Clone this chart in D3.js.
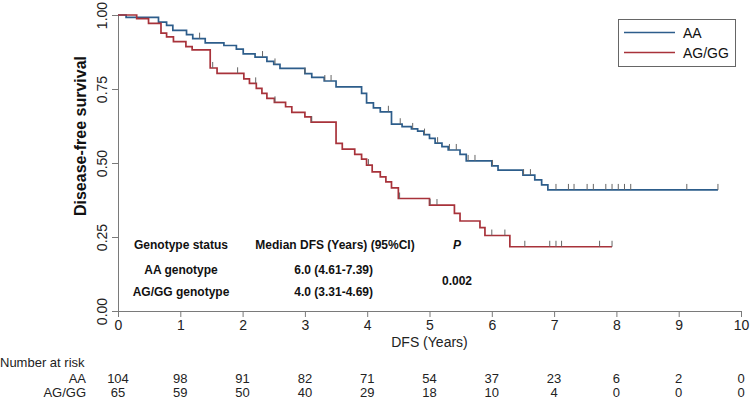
<!DOCTYPE html>
<html>
<head>
<meta charset="utf-8">
<script src="https://cdn.jsdelivr.net/npm/d3@7"></script>
<style>
  body { margin: 0; background: #fff; }
  svg { font-family: "Liberation Sans", Arial, sans-serif; }
</style>
</head>
<body>
<svg id="km" width="750" height="401"></svg>
<script>
// event times (years) and survival after each drop
var aaTimes = [0.13, 0.65, 0.78, 0.88, 1.10, 1.20, 1.40, 1.70, 1.90, 2.01, 2.20, 2.39, 2.50, 2.60, 3.00, 3.11, 3.31, 3.50, 3.91, 3.99, 4.10, 4.21, 4.39, 4.56, 4.71, 4.81, 4.91, 5.00, 5.09, 5.20, 5.30, 5.49, 5.59, 6.00, 6.10, 6.50, 6.69, 6.80, 6.90]
var aaSurv  = [0.992, 0.976, 0.965, 0.948, 0.934, 0.920, 0.906, 0.897, 0.885, 0.869, 0.858, 0.843, 0.833, 0.820, 0.802, 0.789, 0.777, 0.757, 0.735, 0.703, 0.686, 0.673, 0.631, 0.623, 0.615, 0.608, 0.596, 0.583, 0.567, 0.555, 0.544, 0.529, 0.507, 0.490, 0.476, 0.459, 0.443, 0.426, 0.409]
var aaEnd = 9.63
var aaCensor = [1.31, 2.32, 2.52, 3.00, 3.32, 3.42, 4.34, 4.53, 4.73, 4.92, 5.13, 5.32, 5.43, 5.62, 5.73, 6.01, 6.51, 6.62, 7.03, 7.23, 7.32, 7.53, 7.63, 7.83, 7.93, 8.03, 8.13, 8.23, 9.13, 9.63]

var agTimes = [0.30, 0.49, 0.69, 0.78, 0.89, 1.09, 1.19, 1.48, 1.59, 2.02, 2.11, 2.22, 2.31, 2.39, 2.51, 2.69, 2.79, 3.00, 3.10, 3.50, 3.60, 3.80, 3.91, 3.99, 4.08, 4.21, 4.30, 4.39, 4.50, 5.00, 5.40, 5.49, 5.81, 5.89, 6.29]
var agSurv  = [0.988, 0.972, 0.939, 0.926, 0.910, 0.893, 0.882, 0.821, 0.803, 0.784, 0.769, 0.752, 0.735, 0.718, 0.705, 0.690, 0.671, 0.656, 0.638, 0.566, 0.547, 0.529, 0.513, 0.493, 0.470, 0.453, 0.436, 0.416, 0.380, 0.358, 0.330, 0.304, 0.282, 0.255, 0.217]
var agEnd = 7.93
var agCensor = [1.52, 1.92, 2.21, 2.52, 3.11, 4.02, 4.52, 5.01, 5.12, 6.00, 6.21, 6.53, 6.93, 7.03, 7.12, 7.73, 7.93]

var xTicks = [0, 1, 2, 3, 4, 5, 6, 7, 8, 9, 10]
var yTicks = [0, 0.25, 0.5, 0.75, 1]
var riskAA = [104, 98, 91, 82, 71, 54, 37, 23, 6, 2, 0]
var riskAG = [65, 59, 50, 40, 29, 18, 10, 4, 0, 0, 0]

var blue = "#2d5d8b", red = "#a8323a", axisCol = "#7a7a7a"

var svg = d3.select("#km")
var x = d3.scaleLinear().domain([0, 10]).range([118, 741])
var y = d3.scaleLinear().domain([0, 1]).range([311, 15])

// axes
var xAxis = svg.append("g").attr("transform", "translate(0,311)")
  .call(d3.axisBottom(x).tickValues(xTicks).tickSize(6).tickSizeOuter(0).tickPadding(3))
var yAxis = svg.append("g").attr("transform", "translate(118,0)")
  .call(d3.axisLeft(y).tickValues(yTicks).tickSize(6).tickSizeOuter(0).tickFormat(d3.format(".2f")))
svg.selectAll(".domain, .tick line").attr("stroke", axisCol)
xAxis.selectAll("text").style("font-size", "14px").attr("fill", "#222")
yAxis.selectAll("text").style("font-size", "14px").attr("fill", "#222")
  .attr("text-anchor", "middle").attr("transform", "rotate(-90)")
  .attr("x", 0).attr("y", -11).attr("dy", 0)

svg.append("text").attr("x", 429.5).attr("y", 347).attr("text-anchor", "middle")
  .style("font-size", "14px").attr("fill", "#222").text("DFS (Years)")
svg.append("text").attr("transform", "translate(86,136) rotate(-90)").attr("text-anchor", "middle")
  .style("font-size", "16px").style("font-weight", "bold").attr("fill", "#111").text("Disease-free survival")

// curves
function steps(times, surv, end) {
  var pts = [[0, 1]]
  times.forEach(function(t, i) { pts.push([t, surv[i]]) })
  pts.push([end, surv[surv.length - 1]])
  return pts
}
function survAt(times, surv, t) {
  var i = d3.bisectRight(times, t)
  return i === 0 ? 1 : surv[i - 1]
}
var line = d3.line().x(function(d) { return x(d[0]) }).y(function(d) { return y(d[1]) }).curve(d3.curveStepAfter)

function drawGroup(times, surv, end, cens, col) {
  svg.append("path").datum(steps(times, surv, end))
    .attr("d", line).attr("fill", "none").attr("stroke", col).attr("stroke-width", 1.7)
  svg.selectAll(null).data(cens).enter().append("line")
    .attr("x1", function(d) { return x(d) }).attr("x2", function(d) { return x(d) })
    .attr("y1", function(d) { return y(survAt(times, surv, d)) })
    .attr("y2", function(d) { return y(survAt(times, surv, d)) - 6 })
    .attr("stroke", "#666").attr("stroke-width", 1)
}
drawGroup(aaTimes, aaSurv, aaEnd, aaCensor, blue)
drawGroup(agTimes, agSurv, agEnd, agCensor, red)

// legend
svg.append("rect").attr("x", 618.5).attr("y", 19.5).attr("width", 117).attr("height", 47)
  .attr("fill", "#fff").attr("stroke", "#666").attr("stroke-width", 1)
svg.append("line").attr("x1", 624).attr("x2", 675).attr("y1", 32.5).attr("y2", 32.5).attr("stroke", blue).attr("stroke-width", 1.5)
svg.append("line").attr("x1", 624).attr("x2", 675).attr("y1", 52.5).attr("y2", 52.5).attr("stroke", red).attr("stroke-width", 1.5)
svg.append("text").attr("x", 683).attr("y", 37.5).text("AA").style("font-size", "14px").attr("fill", "#111")
svg.append("text").attr("x", 683).attr("y", 57.5).text("AG/GG").style("font-size", "14px").attr("fill", "#111")

// median table
var tb = svg.append("g").style("font-size", "12px").style("font-weight", "bold").attr("fill", "#111")
tb.append("text").attr("x", 181).attr("y", 249).attr("text-anchor", "middle").text("Genotype status")
tb.append("text").attr("x", 335).attr("y", 249).attr("text-anchor", "middle").text("Median DFS (Years) (95%CI)")
tb.append("text").attr("x", 457).attr("y", 249).attr("text-anchor", "middle").style("font-style", "italic").text("P")
tb.append("text").attr("x", 181).attr("y", 274).attr("text-anchor", "middle").text("AA genotype")
tb.append("text").attr("x", 181).attr("y", 296).attr("text-anchor", "middle").text("AG/GG genotype")
tb.append("text").attr("x", 373).attr("y", 274).attr("text-anchor", "end").text("6.0 (4.61-7.39)")
tb.append("text").attr("x", 373).attr("y", 296).attr("text-anchor", "end").text("4.0 (3.31-4.69)")
tb.append("text").attr("x", 457).attr("y", 285).attr("text-anchor", "middle").text("0.002")

// number at risk
var rk = svg.append("g").style("font-size", "13px").attr("fill", "#222")
rk.append("text").attr("x", 0).attr("y", 367).text("Number at risk")
rk.append("text").attr("x", 86).attr("y", 383).attr("text-anchor", "end").text("AA")
rk.append("text").attr("x", 86).attr("y", 397).attr("text-anchor", "end").text("AG/GG")
rk.selectAll(null).data(riskAA).enter().append("text")
  .attr("x", function(d, i) { return x(xTicks[i]) }).attr("y", 383).attr("text-anchor", "middle").text(function(d) { return d })
rk.selectAll(null).data(riskAG).enter().append("text")
  .attr("x", function(d, i) { return x(xTicks[i]) }).attr("y", 397).attr("text-anchor", "middle").text(function(d) { return d })
</script>
</body>
</html>
